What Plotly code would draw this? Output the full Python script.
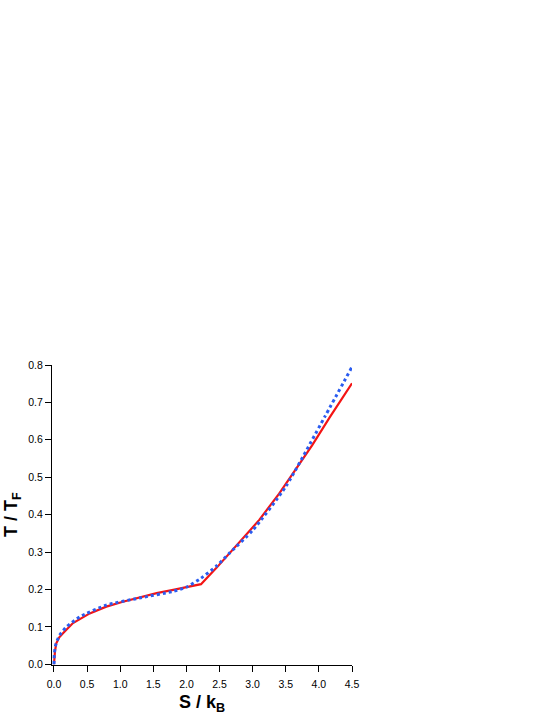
import plotly.graph_objects as go

# Red solid curve
red_s = [0.0, 0.005, 0.015, 0.035, 0.08, 0.136, 0.287, 0.54, 0.79, 1.04, 1.29, 1.55, 1.80, 2.0, 2.22,
         2.45, 2.8, 3.1, 3.4, 3.65, 3.9, 4.17, 4.5]
red_t = [0.0, 0.02, 0.035, 0.056, 0.072, 0.083, 0.11, 0.136, 0.154, 0.167, 0.179, 0.19, 0.199, 0.206, 0.214,
         0.257, 0.328, 0.386, 0.456, 0.52, 0.586, 0.662, 0.751]

# Blue dotted curve
blue_s = [0.0, 0.005, 0.015, 0.03, 0.086, 0.19, 0.39, 0.79, 1.29, 1.8, 2.0, 2.22, 2.45, 2.65, 3.0, 3.5, 4.09, 4.5]
blue_t = [0.0, 0.025, 0.042, 0.055, 0.078, 0.1, 0.127, 0.158, 0.177, 0.195, 0.206, 0.23, 0.262, 0.297, 0.358,
          0.475, 0.662, 0.795]

x_ticks = [0.0, 0.5, 1.0, 1.5, 2.0, 2.5, 3.0, 3.5, 4.0, 4.5]
y_ticks = [0.0, 0.1, 0.2, 0.3, 0.4, 0.5, 0.6, 0.7, 0.8]

FONT = "Liberation Sans, Arial, Helvetica"

fig = go.Figure()
fig.add_trace(go.Scatter(x=red_s, y=red_t, mode="lines",
                         line=dict(color="#f41414", width=2.2), showlegend=False))
fig.add_trace(go.Scatter(x=blue_s, y=blue_t, mode="lines",
                         line=dict(color="#2a5cf0", width=3, dash="dot", shape="spline", smoothing=0.6),
                         showlegend=False))

axis_common = dict(showgrid=False, zeroline=False, showline=True, linecolor="black", linewidth=1,
                   ticks="outside", ticklen=6, tickcolor="black", tickwidth=1, automargin=False,
                   tickfont=dict(family=FONT, size=10.5, color="black"))

fig.update_layout(
    width=554, height=717,
    margin=dict(l=52, r=202, t=365, b=52),
    paper_bgcolor="white", plot_bgcolor="white",
    xaxis=dict(range=[-0.03, 4.5], tickvals=x_ticks, ticktext=[f"{v:.1f}" for v in x_ticks],
               ticklabelstandoff=3, **axis_common),
    yaxis=dict(range=[-0.002, 0.8], tickvals=y_ticks, ticktext=[f"{v:.1f}" for v in y_ticks],
               **axis_common),
    annotations=[
        dict(text="<b>S / k<sub>B</sub></b>", xref="paper", yref="paper", x=0.5, y=0,
             xanchor="center", yanchor="middle", yshift=-38, showarrow=False,
             font=dict(family=FONT, size=18, color="black")),
        dict(text="<b>T / T<sub>F</sub></b>", xref="paper", yref="paper", x=0, y=0.5,
             xanchor="center", yanchor="middle", xshift=-40, textangle=-90, showarrow=False,
             font=dict(family=FONT, size=18, color="black")),
    ],
)

fig.write_html("out.html", config={"displayModeBar": False},
               post_script="document.body.style.margin='0';document.body.style.overflow='hidden';")
